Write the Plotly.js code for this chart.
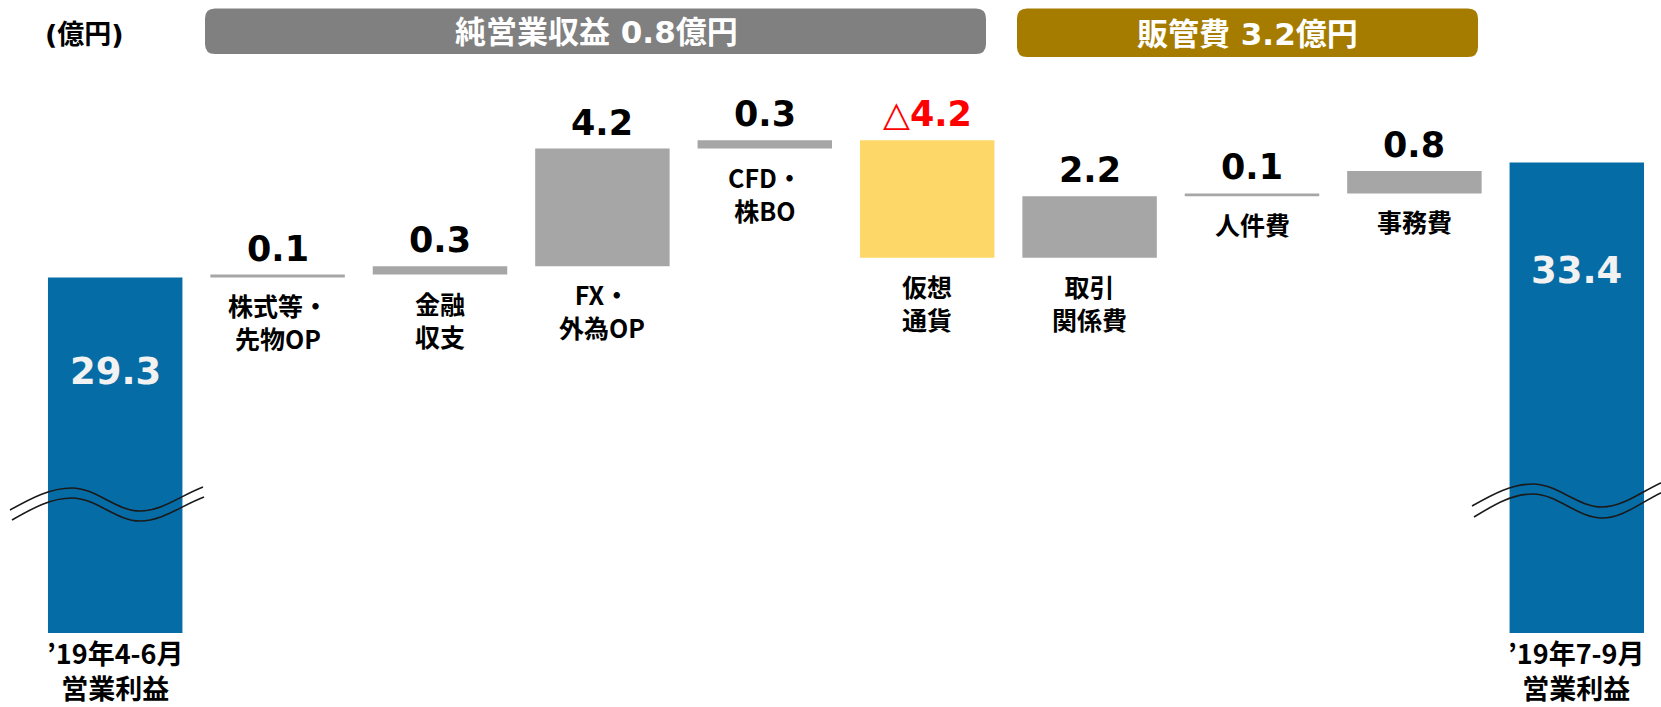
<!DOCTYPE html>
<html>
<head>
<meta charset="utf-8">
<script src="https://cdn.plot.ly/plotly-3.0.1.min.js"></script>
<style>html,body{margin:0;padding:0;background:#fff;}#chart{width:1661px;height:707px;}</style>
</head>
<body>
<div id="chart"></div>
<script>
// ---- data ----
const categories = ["q1", "stock", "fin", "fx", "cfd", "crypto", "trade", "staff", "office", "q2"];
const categoryLabels = ["’19年4-6月<br>営業利益", "株式等・<br>先物OP", "金融<br>収支", "FX・<br>外為OP", "CFD・<br>株BO", "仮想<br>通貨", "取引<br>関係費", "人件費", "事務費", "’19年7-9月<br>営業利益"];
const measures = ["absolute", "relative", "relative", "relative", "relative", "relative", "relative", "relative", "relative", "absolute"];
const values = [29.3, 0.1, 0.3, 4.2, 0.3, -4.2, 2.2, 0.1, 0.8, 33.4];
const valueLabels = ["29.3", "0.1", "0.3", "4.2", "0.3", "△4.2", "2.2", "0.1", "0.8", "33.4"];
const groupTitles = ["純営業収益 0.8億円", "販管費 3.2億円"];
const unitLabel = "(億円)";

// ---- layout geometry ----
const W = 1661, H = 707;
const M = {l: 34, r: 3, t: 100, b: 74};
const PW = W - M.l - M.r, PH = H - M.t - M.b;
const px = x => (x - M.l) / PW;
const py = y => (H - M.b - y) / PH;
const FONT = "DejaVu Sans, 'Noto Sans CJK JP', sans-serif";
const CJK = "'Noto Sans CJK JP', DejaVu Sans, sans-serif";

const BLUE = "#066ca5", GREY = "#a6a6a6", YELLOW = "#fdd767";

const trace = {
  type: "waterfall",
  x: categories,
  y: values,
  measure: measures,
  width: 0.828,
  increasing: {marker: {color: GREY}},
  decreasing: {marker: {color: YELLOW}},
  totals: {marker: {color: BLUE}},
  connector: {visible: false},
  hoverinfo: "skip",
  textinfo: "none"
};

// cumulative levels from the data
const lows = [], highs = [];
let level = 0;
values.forEach((v, i) => {
  if (measures[i] === "absolute") { lows.push(0); highs.push(v); level = v; }
  else { const s = level, e = level + v; lows.push(Math.min(s, e)); highs.push(Math.max(s, e)); level = e; }
});

const annotations = [];
values.forEach((v, i) => {
  const isTotal = measures[i] === "absolute";
  if (isTotal) {
    annotations.push({
      x: categories[i], y: highs[i], xref: "x", yref: "y",
      text: valueLabels[i], showarrow: false, yanchor: "middle",
      yshift: i === 0 ? -94 : -108,
      font: {family: FONT, size: 37, color: "#f2f2f2", weight: "bold"}
    });
    annotations.push({
      x: categories[i], y: 0, xref: "x", yref: "paper",
      text: categoryLabels[i], showarrow: false, yanchor: "top", yshift: 2,
      font: {family: CJK, size: 27, color: "#000", weight: "bold"}
    });
  } else {
    annotations.push({
      x: categories[i], y: highs[i], xref: "x", yref: "y",
      text: valueLabels[i], showarrow: false, yanchor: "bottom", yshift: 4,
      font: {family: FONT, size: 35, color: v < 0 ? "#ff0000" : "#000", weight: "bold"}
    });
    annotations.push({
      x: categories[i], y: lows[i], xref: "x", yref: "y",
      text: categoryLabels[i], showarrow: false, yanchor: "top", yshift: -8,
      font: {family: CJK, size: 25, color: "#000", weight: "bold"}
    });
  }
});

// headers
annotations.push({x: px(84), y: py(34), xref: "paper", yref: "paper", text: unitLabel, showarrow: false,
  xanchor: "center", yanchor: "middle", font: {family: FONT, size: 27, color: "#000", weight: "bold"}});
annotations.push({x: px(596), y: py(32), xref: "paper", yref: "paper", text: groupTitles[0], showarrow: false,
  xanchor: "center", yanchor: "middle", font: {family: FONT, size: 31, color: "#fff", weight: "bold"}});
annotations.push({x: px(1247), y: py(34), xref: "paper", yref: "paper", text: groupTitles[1], showarrow: false,
  xanchor: "center", yanchor: "middle", font: {family: FONT, size: 31, color: "#fff", weight: "bold"}});

function roundRect(x0, y0, x1, y1, r) {
  const P = (x, y) => px(x) + "," + py(y);
  return "M" + P(x0 + r, y0) + " L" + P(x1 - r, y0) + " Q" + P(x1, y0) + " " + P(x1, y0 + r) +
    " L" + P(x1, y1 - r) + " Q" + P(x1, y1) + " " + P(x1 - r, y1) +
    " L" + P(x0 + r, y1) + " Q" + P(x0, y1) + " " + P(x0, y1 - r) +
    " L" + P(x0, y0 + r) + " Q" + P(x0, y0) + " " + P(x0 + r, y0) + " Z";
}
function wave(pts) {
  const P = p => px(p[0]) + "," + py(p[1]);
  let s = "M" + P(pts[0]);
  for (let k = 1; k < pts.length; k += 3) s += " C" + P(pts[k]) + " " + P(pts[k + 1]) + " " + P(pts[k + 2]);
  return s;
}
function waveSet(x0, x1, x2, x3, y0, yPeak, yTrough, y3) {
  return [[x0, y0], [x0 + (x1 - x0) * 0.35, y0 - (y0 - yPeak) * 0.55], [x1 - (x1 - x0) * 0.35, yPeak], [x1, yPeak],
          [x1 + (x2 - x1) * 0.35, yPeak], [x2 - (x2 - x1) * 0.35, yTrough], [x2, yTrough],
          [x2 + (x3 - x2) * 0.35, yTrough], [x3 - (x3 - x2) * 0.35, y3 + (yTrough - y3) * 0.35], [x3, y3]];
}
const lineStyle = {color: "#1a1a1a", width: 1.6};
const shapes = [
  {type: "path", xref: "paper", yref: "paper", path: roundRect(205, 8.5, 986, 54, 10), fillcolor: "#808080", line: {width: 0}},
  {type: "path", xref: "paper", yref: "paper", path: roundRect(1017, 8.5, 1478, 57, 10), fillcolor: "#a67c00", line: {width: 0}},
  {type: "path", xref: "paper", yref: "paper", path: wave(waveSet(10, 72, 140, 203, 510, 488, 511, 487)), line: lineStyle},
  {type: "path", xref: "paper", yref: "paper", path: wave(waveSet(12, 72, 140, 204, 520, 498, 521, 497)), line: lineStyle},
  {type: "path", xref: "paper", yref: "paper", path: wave(waveSet(1472, 1533, 1602, 1665, 506, 484, 507, 481)), line: lineStyle},
  {type: "path", xref: "paper", yref: "paper", path: wave(waveSet(1474, 1533, 1602, 1665, 517, 494, 518, 491)), line: lineStyle}
];

const yBottom = 16.6, pxPerUnit = 28;
const layout = {
  width: W, height: H,
  margin: M,
  paper_bgcolor: "#fff", plot_bgcolor: "#fff",
  showlegend: false,
  xaxis: {type: "category", range: [-0.5, 9.5], visible: false, fixedrange: true},
  yaxis: {range: [yBottom, yBottom + PH / pxPerUnit], visible: false, fixedrange: true},
  annotations: annotations,
  shapes: shapes,
  hovermode: false
};

Plotly.newPlot("chart", [trace], layout, {displayModeBar: false, staticPlot: true});
</script>
</body>
</html>
